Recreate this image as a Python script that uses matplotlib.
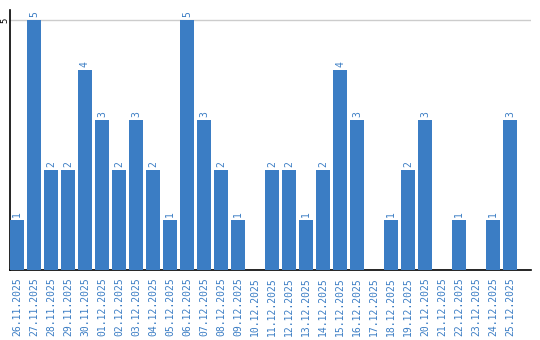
import matplotlib
matplotlib.use("Agg")
import matplotlib.pyplot as plt

# data
dates = ["26.11.2025", "27.11.2025", "28.11.2025", "29.11.2025", "30.11.2025",
         "01.12.2025", "02.12.2025", "03.12.2025", "04.12.2025", "05.12.2025",
         "06.12.2025", "07.12.2025", "08.12.2025", "09.12.2025", "10.12.2025",
         "11.12.2025", "12.12.2025", "13.12.2025", "14.12.2025", "15.12.2025",
         "16.12.2025", "17.12.2025", "18.12.2025", "19.12.2025", "20.12.2025",
         "21.12.2025", "22.12.2025", "23.12.2025", "24.12.2025", "25.12.2025"]
counts = [1, 5, 2, 2, 4, 3, 2, 3, 2, 1, 5, 3, 2, 1, 0,
          2, 2, 1, 2, 4, 3, 0, 1, 2, 3, 0, 1, 0, 1, 3]

blue = "#3b7dc4"
font = "DejaVu Sans Mono"

fig = plt.figure(figsize=(5.4, 3.4), dpi=100)
ax = fig.add_axes([10/540, 70/340, 521/540, 260/340])

xs = list(range(len(dates)))
bw = 14/17
ax.bar(xs, counts, width=bw, align="edge", color=blue, zorder=3)

for x, v in zip(xs, counts):
    if v > 0:
        ax.annotate(str(v), (x + bw/2, v), textcoords="offset points", xytext=(0, 2),
                    ha="center", va="bottom", rotation=90, color=blue,
                    fontsize=7, family=font)

ax.set_xlim(0, 521/17)
ax.set_ylim(0, 5.2)
ax.set_yticks([5])
ax.set_yticklabels(["5"], rotation=90, va="center", fontsize=6.5, family=font)
ax.tick_params(axis="y", length=0, pad=0.5)
ax.grid(axis="y", color="#cccccc", linewidth=1, zorder=0)

ax.set_xticks([x + bw/2 for x in xs])
ax.set_xticklabels(dates, rotation=90, color=blue, fontsize=7, family=font)
ax.tick_params(axis="x", length=0, pad=5)

for s in ["top", "right"]:
    ax.spines[s].set_visible(False)
ax.spines["left"].set_linewidth(1.2)
ax.spines["bottom"].set_linewidth(1.2)

plt.savefig("out.png", dpi=100)
